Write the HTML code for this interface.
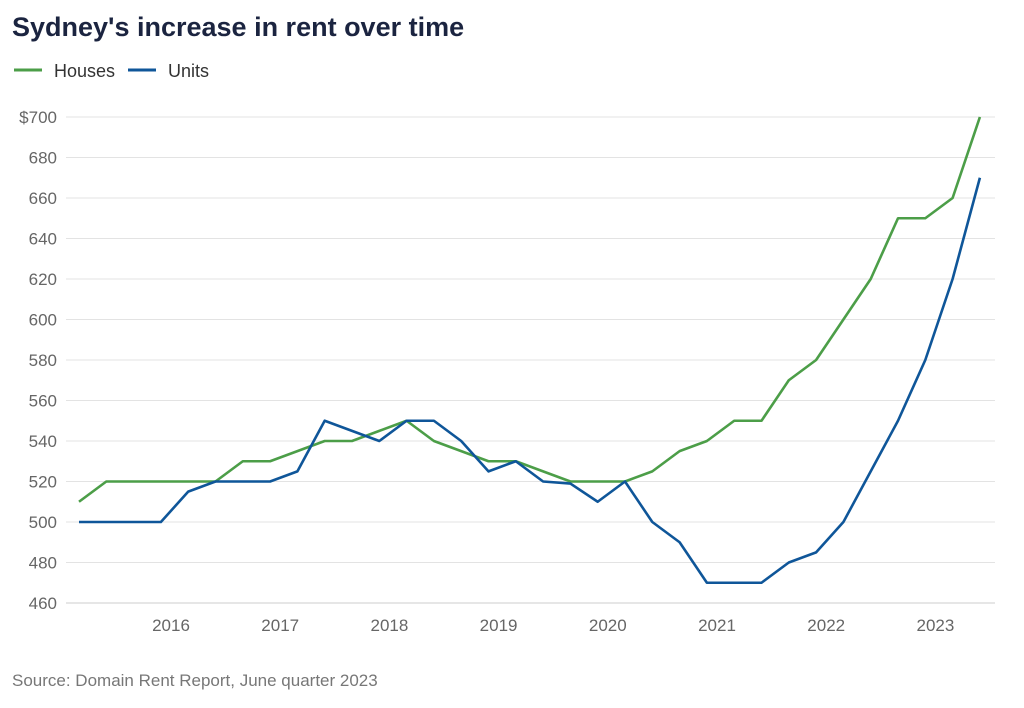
<!DOCTYPE html>
<html><head><meta charset="utf-8"><style>
body{margin:0;background:#fff;font-family:"Liberation Sans",sans-serif;}
#wrap{position:relative;width:1024px;height:703px;}
</style></head><body>
<div id="wrap">
<svg id="chart" width="1024" height="703">
<text x="12" y="36" font-size="27" font-weight="bold" fill="#1b2440">Sydney's increase in rent over time</text>
<g>
<g><line x1="14" y1="70" x2="42" y2="70" stroke="#4c9e48" stroke-width="3"/><text x="54" y="77" font-size="18" fill="#333">Houses</text></g>
<g><line x1="128" y1="70" x2="156" y2="70" stroke="#0f5699" stroke-width="3"/><text x="168" y="77" font-size="18" fill="#333">Units</text></g>
</g>
<g id="grid"></g><g id="series"></g>
<text x="12" y="686" font-size="17" fill="#777">Source: Domain Rent Report, June quarter 2023</text>
</svg></div>
<script>
const houses=[510,520,520,520,520,520,530,530,535,540,540,545,550,540,535,530,530,525,520,520,520,525,535,540,550,550,570,580,600,620,650,650,660,700];
const units=[500,500,500,500,515,520,520,520,525,550,545,540,550,550,540,525,530,520,519,510,520,500,490,470,470,470,480,485,500,525,550,580,620,670];
const yTicks=[460,480,500,520,540,560,580,600,620,640,660,680,700];
const yearLabels=["2016","2017","2018","2019","2020","2021","2022","2023"];
const firstYearIndex=3.37;
const NS="http://www.w3.org/2000/svg";
const x=i=>79+i*27.3;
const y=v=>603-(v-460)*486/240;
const grid=document.getElementById('grid'),ser=document.getElementById('series');
function mk(tag,at,parent){const e=document.createElementNS(NS,tag);for(const k in at)e.setAttribute(k,at[k]);parent.appendChild(e);return e;}
yTicks.forEach(v=>{
 const l=mk('line',{x1:66,x2:995,y1:y(v),y2:y(v),stroke:v===460?'#ccc':'#e3e3e3','stroke-width':1},grid);
 
 
 const t=mk('text',{x:57,y:y(v)+6,'text-anchor':'end','font-size':17,fill:'#666'},grid);
 t.textContent=(v===700?'$':'')+v;
 
 
});
yearLabels.forEach((s,k)=>{
 const t=mk('text',{x:x(firstYearIndex+k*4),y:631,'text-anchor':'middle','font-size':17,fill:'#666'},grid);
 t.textContent=s;
 
 
});
[[houses,'#4c9e48','houses-line'],[units,'#0f5699','units-line']].forEach(([d,c,n])=>{
 const p=mk('polyline',{points:d.map((v,i)=>x(i)+','+y(v)).join(' '),fill:'none',stroke:c,'stroke-width':2.6,'stroke-linejoin':'round'},ser);
 
 
});
</script>
</body></html>
